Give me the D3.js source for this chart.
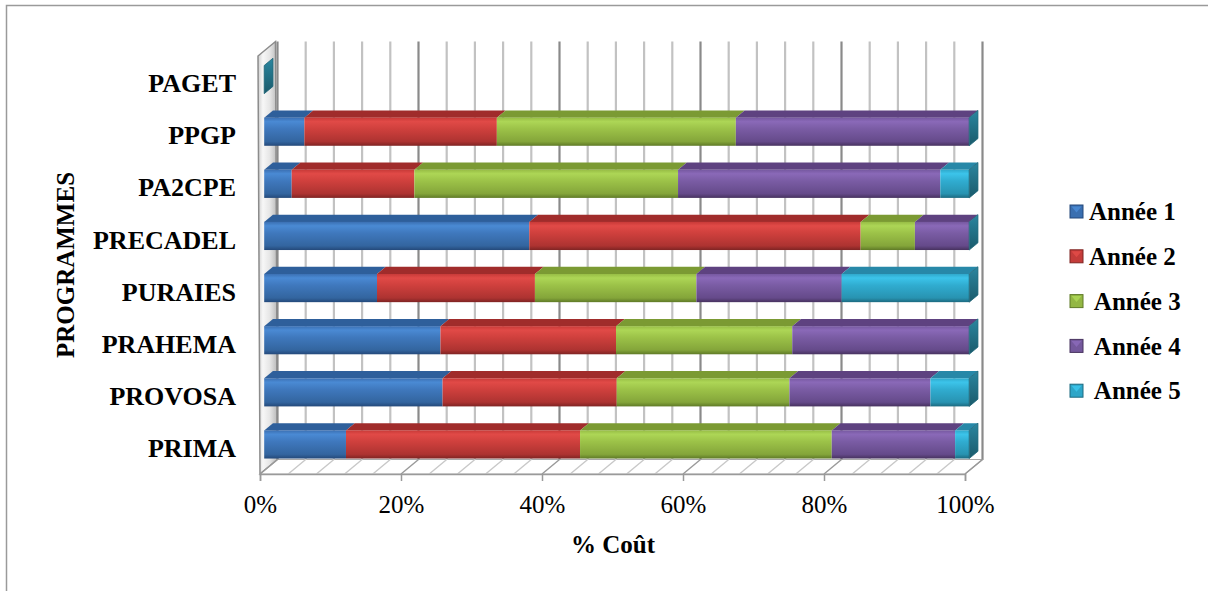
<!DOCTYPE html>
<html>
<head>
<meta charset="utf-8">
<script src="https://cdn.jsdelivr.net/npm/d3@7/dist/d3.min.js"></script>
<style>
  html, body { margin: 0; padding: 0; background: #fff; }
  svg { display: block; }
  text { font-family: "Liberation Serif", "Times New Roman", serif; }
</style>
</head>
<body>
<svg id="chart" width="1208" height="591"></svg>
<script>
// Programmes, top to bottom
const categories = ["PAGET", "PPGP", "PA2CPE", "PRECADEL", "PURAIES", "PRAHEMA", "PROVOSA", "PRIMA"];

// Share of total cost per year (%), same order as categories
const annee1 = [0, 5.7, 3.9, 37.6, 16.0, 25.0, 25.3, 11.6];
const annee2 = [0, 27.3, 17.4, 47.0, 22.4, 24.9, 24.7, 33.2];
const annee3 = [0, 33.9, 37.4, 7.7, 22.9, 25.0, 24.5, 35.7];
const annee4 = [0, 33.1, 37.2, 7.7, 20.6, 25.1, 20.0, 17.5];
const annee5 = [0, 0, 4.1, 0, 18.1, 0, 5.5, 2.0];

const seriesNames = ["Année 1", "Année 2", " Année 3", " Année 4", " Année 5"];
const seriesKeys = ["a1", "a2", "a3", "a4", "a5"];
const tickValues = [0, 20, 40, 60, 80, 100];
const gridValues = d3.range(0, 101, 4);

const rows = categories.map((c, i) => ({
  cat: c, a1: annee1[i], a2: annee2[i], a3: annee3[i], a4: annee4[i], a5: annee5[i]
}));

// Shading for each series: top face, front face gradient stops
const palette = [
  { top: "#2e5f9b", stops: ["#3b70b3", "#4a8ad4", "#3f78bd", "#33659f", "#24497a"], legend: "#3a6fb0" },
  { top: "#a02c2b", stops: ["#c83a38", "#e14a47", "#cf403d", "#ad3331", "#7f2423"], legend: "#c43c3a" },
  { top: "#7b9a33", stops: ["#97bd45", "#add656", "#9cc248", "#84a53a", "#5f7a27"], legend: "#93b744" },
  { top: "#5e4280", stops: ["#7658a0", "#8a69b8", "#7a5ca4", "#654a8a", "#47325f"], legend: "#74589c" },
  { top: "#2788a8", stops: ["#2fa9cc", "#3cc4ea", "#30acd0", "#2893b1", "#1c6a80"], legend: "#2ea6c8" }
];

const svg = d3.select("#chart");
const defs = svg.append("defs");

palette.forEach((p, i) => {
  const g = defs.append("linearGradient").attr("id", "front" + i)
    .attr("x1", 0).attr("y1", 0).attr("x2", 0).attr("y2", 1);
  [0, 0.14, 0.4, 0.85, 1].forEach((o, k) =>
    g.append("stop").attr("offset", o).attr("stop-color", p.stops[k]));
});
const capGrad = defs.append("linearGradient").attr("id", "cap")
  .attr("x1", 0).attr("y1", 0).attr("x2", 0).attr("y2", 1);
capGrad.append("stop").attr("offset", 0).attr("stop-color", "#2a86a0");
capGrad.append("stop").attr("offset", 1).attr("stop-color", "#1a5a6b");
const wallGrad = defs.append("linearGradient").attr("id", "wall")
  .attr("x1", 0).attr("y1", 0).attr("x2", 1).attr("y2", 0);
[[0, "#cfcfcf"], [0.25, "#f7f7f7"], [0.6, "#e6e6e6"], [1, "#b8b8b8"]].forEach(s =>
  wallGrad.append("stop").attr("offset", s[0]).attr("stop-color", s[1]));

// Outer frame
svg.append("path")
  .attr("d", "M6.5,591 L6.5,5.5 L1208,5.5")
  .attr("fill", "none").attr("stroke", "#9a9a9a").attr("stroke-width", 1.5);

// Oblique projection: depth offset from the front plane to the back wall
const DX = 17.5, DY = -14.5;
const Z0 = 0.24, Z1 = 0.74;
const plotTop = 56, plotBottom = 474;

const x = d3.scaleLinear().domain([0, 100]).range([260, 965]);
const y = d3.scaleBand().domain(categories).range([57, plotBottom])
  .paddingInner(0.46).paddingOuter(0.23);

const pt = (v, yy, z) => [x(v) + DX * z, yy + DY * z];
const poly = pts => "M" + pts.map(p => p.join(",")).join("L") + "Z";

// Left side wall
svg.append("path")
  .attr("d", poly([[x(0) - 2, plotTop], [x(0) - 2 + DX, plotTop + DY],
                   [x(0) + DX, plotBottom + DY], [x(0), plotBottom]]))
  .attr("fill", "url(#wall)").attr("stroke", "#8c8c8c").attr("stroke-width", 1.5);

// Floor
svg.append("path")
  .attr("d", poly([[x(0), plotBottom], [x(0) + DX, plotBottom + DY],
                   [x(100) + DX, plotBottom + DY], [x(100), plotBottom]]))
  .attr("fill", "#fff").attr("stroke", "#a8a8a8").attr("stroke-width", 1.2);

// Back wall gridlines
svg.append("g").selectAll("line").data(gridValues).join("line")
  .attr("x1", d => x(d) + DX).attr("x2", d => x(d) + DX)
  .attr("y1", plotTop + DY).attr("y2", plotBottom + DY)
  .attr("stroke", d => d % 20 === 0 ? "#8a8a8a" : "#c2c2c2")
  .attr("stroke-width", 2.2);

// Floor gridlines
svg.append("g").selectAll("line").data(gridValues).join("line")
  .attr("x1", d => x(d)).attr("y1", plotBottom)
  .attr("x2", d => x(d) + DX).attr("y2", plotBottom + DY)
  .attr("stroke", d => d % 20 === 0 ? "#999" : "#c8c8c8")
  .attr("stroke-width", 1.4);

// Value axis on the front edge of the floor
const xAxis = svg.append("g").attr("transform", `translate(0,${plotBottom})`)
  .call(d3.axisBottom(x).tickValues(tickValues).tickFormat(d => d + "%")
    .tickSize(7).tickPadding(14));
xAxis.select(".domain").attr("stroke", "#9a9a9a").attr("stroke-width", 1.5);
xAxis.selectAll(".tick line").attr("stroke", "#9a9a9a").attr("stroke-width", 1.5);
xAxis.selectAll(".tick text")
  .style("font-family", '"Liberation Serif", "Times New Roman", serif')
  .style("font-size", "25px").attr("fill", "#000");

// Stacked bars (front face + top face, right end cap)
const stacked = d3.stack().keys(seriesKeys)(rows);
const bw = y.bandwidth();
const barsG = svg.append("g");

rows.forEach((r, ri) => {
  const y0 = y(r.cat);
  stacked.forEach((s, si) => {
    const d = s[ri];
    if (d[1] - d[0] <= 0) return;
    const fTL = pt(d[0], y0, Z0), fTR = pt(d[1], y0, Z0);
    const bTL = pt(d[0], y0, Z1), bTR = pt(d[1], y0, Z1);
    // top face
    barsG.append("path").attr("d", poly([fTL, bTL, bTR, fTR]))
      .attr("fill", palette[si].top);
    // front face
    barsG.append("rect")
      .attr("x", fTL[0]).attr("y", fTL[1])
      .attr("width", fTR[0] - fTL[0]).attr("height", bw)
      .attr("fill", `url(#front${si})`);
  });
  // right end of the stack
  const end = stacked[stacked.length - 1][ri][1];
  const fT = pt(end, y0, Z0), bT = pt(end, y0, Z1);
  barsG.append("path")
    .attr("d", poly([fT, bT, [bT[0], bT[1] + bw], [fT[0], fT[1] + bw]]))
    .attr("fill", "url(#cap)").attr("stroke", "#1d6477").attr("stroke-width", 0.8)
    .attr("stroke-linejoin", "round");
});

// Category labels
svg.append("g").selectAll("text").data(categories).join("text")
  .attr("x", 236).attr("y", d => y(d) + bw / 2)
  .attr("dy", "0.35em").attr("text-anchor", "end")
  .style("font-size", "26px").style("font-weight", "bold")
  .text(d => d);

// Axis titles
svg.append("text").attr("x", 613).attr("y", 553).attr("text-anchor", "middle")
  .style("font-size", "25px").style("font-weight", "bold").text("% Coût");
svg.append("text").attr("transform", "translate(74,265) rotate(-90)")
  .attr("text-anchor", "middle")
  .style("font-size", "25px").style("font-weight", "bold").text("PROGRAMMES");

// Legend
const legend = svg.append("g").selectAll("g").data(seriesNames).join("g")
  .attr("transform", (d, i) => `translate(1070,${211.5 + i * 44.8})`);
legend.append("rect").attr("x", 0).attr("y", -6.5).attr("width", 13).attr("height", 13)
  .attr("fill", (d, i) => palette[i].legend).attr("stroke", (d, i) => palette[i].stops[4])
  .attr("stroke-width", 1);
legend.append("path").attr("d", "M1.5,-5 L11.5,-5 L6.5,1 Z")
  .attr("fill", (d, i) => palette[i].stops[1]).attr("opacity", 0.9);
legend.append("text").attr("x", 19).attr("y", 0).attr("dy", "0.35em")
  .style("font-size", "25px").style("font-weight", "bold")
  .style("white-space", "pre").attr("xml:space", "preserve")
  .text(d => d);
</script>
</body>
</html>
